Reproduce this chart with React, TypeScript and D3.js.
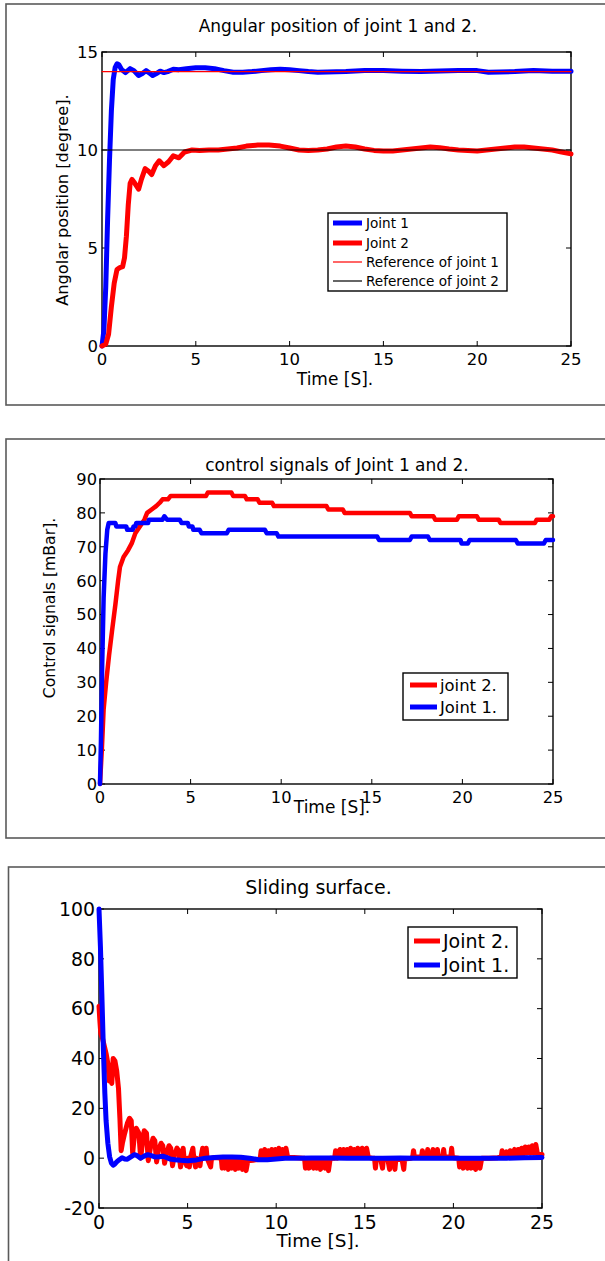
import React from 'react';
import * as d3 from 'd3';

type Pt = [number, number];

// ---------- shared ticks ----------
const timeTicks = [0, 5, 10, 15, 20, 25];
const angleTicks = [0, 5, 10, 15];
const controlTicks = [0, 10, 20, 30, 40, 50, 60, 70, 80, 90];
const slidingTicks = [-20, 0, 20, 40, 60, 80, 100];

// ---------- panel 1: angular position ----------
const angleJoint1: Pt[] = [
  [0, 0], [0.1, 0.8], [0.2, 3], [0.3, 6.5], [0.4, 9.5], [0.5, 12], [0.6, 13.6], [0.7, 14.2], [0.8, 14.4],
  [0.9, 14.35], [1.05, 14.1], [1.25, 13.95], [1.5, 14.15], [1.7, 14.05], [1.95, 13.8], [2.15, 13.9],
  [2.35, 14.05], [2.5, 13.95], [2.7, 13.8], [2.9, 13.9], [3.1, 14.02], [3.3, 13.95], [3.5, 14.0],
  [3.8, 14.12], [4.1, 14.1], [4.5, 14.15], [5.0, 14.2], [5.5, 14.2], [6.0, 14.15], [6.5, 14.05],
  [7.0, 13.97], [7.5, 13.97], [8.0, 14.0], [8.5, 14.05], [9.0, 14.1], [9.5, 14.12], [10.0, 14.1],
  [10.5, 14.05], [11.0, 14.0], [11.5, 13.97], [12.0, 13.98], [13.0, 14.0], [14.0, 14.05], [15.0, 14.05],
  [16.0, 14.02], [17.0, 14.0], [18.0, 14.03], [19.0, 14.05], [20.0, 14.05], [20.6, 13.97], [21.2, 13.98],
  [22.0, 14.0], [23.0, 14.05], [24.0, 14.02], [25.0, 14.02],
];
const angleJoint2: Pt[] = [
  [0, 0], [0.2, 0.1], [0.35, 0.6], [0.5, 2.0], [0.65, 3.2], [0.8, 3.9], [0.95, 4.0], [1.1, 4.05],
  [1.2, 4.5], [1.3, 5.6], [1.4, 7.2], [1.5, 8.3], [1.6, 8.5], [1.75, 8.3], [1.95, 8.0], [2.1, 8.5],
  [2.3, 9.05], [2.5, 8.9], [2.65, 8.75], [2.85, 9.2], [3.05, 9.45], [3.3, 9.2], [3.55, 9.4], [3.8, 9.7],
  [4.1, 9.6], [4.4, 9.9], [4.8, 10.0], [5.2, 9.97], [5.7, 10.0], [6.2, 10.0], [6.7, 10.05], [7.2, 10.1],
  [7.7, 10.2], [8.3, 10.25], [8.9, 10.25], [9.5, 10.2], [10.0, 10.1], [10.5, 10.0], [11.0, 9.98],
  [11.5, 10.0], [12.0, 10.05], [12.5, 10.15], [13.0, 10.2], [13.5, 10.15], [14.0, 10.05], [14.5, 9.98],
  [15.0, 9.95], [15.5, 9.95], [16.0, 10.0], [16.5, 10.05], [17.0, 10.1], [17.5, 10.15], [18.0, 10.12],
  [18.5, 10.05], [19.0, 10.0], [19.5, 9.97], [20.0, 9.95], [20.5, 10.0], [21.0, 10.05], [21.5, 10.1],
  [22.0, 10.15], [22.5, 10.15], [23.0, 10.1], [23.5, 10.05], [24.0, 10.0], [24.5, 9.9], [25.0, 9.8],
];
const angleRef1: Pt[] = [[0, 14], [25, 14]];
const angleRef2: Pt[] = [[0, 10], [25, 10]];

// ---------- panel 2: control signals ----------
const controlJoint2: Pt[] = [
  [0, 0], [0.1, 10], [0.2, 22], [0.34, 30], [0.5, 38], [0.66, 45], [0.85, 53], [1.0, 60], [1.1, 64],
  [1.3, 67], [1.55, 69], [1.75, 71], [1.95, 74], [2.2, 76], [2.45, 78], [2.6, 80], [2.85, 81], [3.1, 82],
  [3.3, 83], [3.45, 84], [3.75, 84], [3.9, 85], [5.85, 85], [5.95, 86], [7.25, 86], [7.35, 85], [8.0, 85],
  [8.1, 84], [8.7, 84], [8.8, 83], [9.5, 83], [9.6, 82], [12.5, 82], [12.6, 81], [13.4, 81], [13.5, 80],
  [17.1, 80], [17.2, 79], [18.4, 79], [18.5, 78], [19.7, 78], [19.8, 79], [20.8, 79], [20.9, 78],
  [22.0, 78], [22.1, 77], [24.0, 77], [24.1, 78], [24.8, 78], [24.9, 79], [25, 79],
];
const controlJoint1: Pt[] = [
  [0, 0], [0.05, 12], [0.12, 35], [0.2, 55], [0.3, 68], [0.4, 75], [0.48, 77], [0.85, 77], [0.9, 76],
  [1.45, 76], [1.5, 75], [1.8, 75], [1.85, 76], [1.95, 76], [2.0, 77], [2.65, 77], [2.7, 78], [3.45, 78],
  [3.55, 79], [3.7, 78], [4.4, 78], [4.5, 77], [4.85, 77], [4.9, 76], [5.1, 76], [5.15, 75], [5.5, 75],
  [5.6, 74], [7.0, 74], [7.1, 75], [9.1, 75], [9.2, 74], [9.75, 74], [9.85, 73], [15.3, 73], [15.4, 72],
  [17.1, 72], [17.2, 73], [18.1, 73], [18.2, 72], [19.9, 72], [19.95, 71], [20.3, 71], [20.4, 72],
  [22.95, 72], [23.05, 71], [24.5, 71], [24.6, 72], [25, 72],
];

// ---------- panel 3: sliding surface ----------
const slidingJoint1: Pt[] = [
  [0, 100], [0.08, 85], [0.16, 66], [0.25, 43], [0.33, 26], [0.4, 15], [0.5, 6], [0.6, 0.5], [0.7, -2],
  [0.8, -2.8], [0.9, -2.3], [1.0, -1.5], [1.15, -0.6], [1.3, 0.2], [1.45, -0.3], [1.6, -0.4], [1.8, 0.5],
  [2.0, 1.4], [2.15, 1.0], [2.35, 0], [2.55, 0.8], [2.75, 1.4], [2.95, 1.0], [3.15, 0.5], [3.4, 0.6],
  [3.6, 0.8], [3.8, 0.3], [4.0, -0.3], [4.3, -0.6], [4.6, -0.8], [5.0, -1.0], [5.5, -0.7], [6.0, 0],
  [6.5, 0.3], [7.0, 0.5], [7.5, 0.5], [8.0, 0.4], [8.5, 0], [9.0, -0.6], [9.5, -0.6], [10.0, -0.3],
  [10.5, 0], [11.0, 0], [12.0, 0.1], [13.0, 0.1], [14.0, 0], [15.0, 0], [16.0, 0], [17.0, 0.1], [18.0, 0],
  [19.0, 0], [20.0, 0], [21.0, 0], [22.0, 0], [23.0, 0], [24.0, 0.2], [25.0, 0.3],
];
const slidingJoint2: Pt[] = [
  [0, 61], [0.05, 55], [0.1, 50], [0.2, 48], [0.3, 45], [0.4, 42], [0.5, 38], [0.58, 31], [0.65, 33],
  [0.72, 30], [0.8, 40], [0.9, 39], [1.0, 35], [1.1, 28], [1.18, 16], [1.25, 3], [1.32, 6], [1.45, 10],
  [1.6, 14], [1.72, 16], [1.82, 15], [1.9, 2], [1.98, 8], [2.1, 12], [2.25, 10], [2.35, 0], [2.45, 6],
  [2.55, 11], [2.68, 10], [2.78, -1], [2.9, 4], [3.05, 8], [3.15, 7], [3.25, -1.5], [3.35, 3], [3.5, 6],
  [3.6, 5], [3.7, -2], [3.82, 2], [3.95, 5], [4.05, 4], [4.15, -3], [4.25, 1], [4.4, 4], [4.5, 3],
  [4.6, -3.5], [4.7, 0], [4.75, 4], [4.8, 0], [4.95, -3], [5.0, 0], [5.1, -3.5], [5.15, 0], [5.3, 4],
  [5.35, 0], [5.45, -3.5], [5.5, 0], [5.7, -3], [5.75, 0], [5.85, 4], [5.9, 0], [6.05, 4], [6.1, 0],
  [6.3, -3.5], [6.35, 0], [6.6, 0.3], [6.9, 0], [6.95, -4], [7.05, 0], [7.1, -4], [7.2, -1], [7.3, -4.5],
  [7.4, 0], [7.5, -4], [7.6, -1], [7.7, -4.5], [7.8, -0.5], [7.9, -4], [8.0, -1], [8.1, -4.5], [8.2, -1],
  [8.3, -5], [8.4, -1], [8.7, -0.8], [9.0, -0.5], [9.1, 0], [9.15, 3], [9.25, 0], [9.35, 3.5], [9.45, 0.5],
  [9.55, 3], [9.65, 0], [9.75, 3.5], [9.85, 0.5], [9.95, 3.5], [10.05, 0.5], [10.15, 4], [10.25, 0.5],
  [10.35, 3.5], [10.45, 0.5], [10.55, 4], [10.65, 0.3], [11.0, 0.3], [11.5, 0], [11.6, 0], [11.65, -4],
  [11.75, -0.5], [11.85, -4], [11.95, -0.5], [12.1, -4], [12.2, -0.5], [12.3, -4], [12.4, -1], [12.5, -4.5],
  [12.6, -0.5], [12.75, -4], [12.85, -1], [12.95, -5], [13.05, 0], [13.3, 0], [13.35, 3], [13.45, 0],
  [13.6, 3.5], [13.7, 0.5], [13.8, 3.5], [13.9, 0.5], [14.0, 3.5], [14.1, 0.5], [14.2, 4], [14.3, 0.5],
  [14.4, 3.5], [14.5, 0.5], [14.6, 4], [14.7, 0.5], [14.85, 4], [14.95, 0.3], [15.1, 4], [15.2, 0.3],
  [15.4, 0], [15.55, 0], [15.6, -4], [15.65, -0.5], [15.9, -0.5], [16.0, -4], [16.05, -0.5], [16.3, -0.5],
  [16.4, -4.5], [16.45, -0.5], [16.6, -0.5], [16.7, -4.5], [16.75, -0.5], [17.1, -0.5], [17.2, -4.5],
  [17.25, -0.3], [17.6, 0], [17.7, 0.3], [17.75, 3], [17.8, 0.5], [18.2, 0.5], [18.25, 3], [18.3, 0.5],
  [18.5, 0.5], [18.55, 3.5], [18.6, 0.5], [18.8, 0.5], [18.85, 3.5], [18.9, 0.5], [19.05, 0.5], [19.1, 3.5],
  [19.15, 0.5], [19.4, 0.5], [19.45, 3.5], [19.5, 0.5], [19.85, 0.5], [19.9, 4], [19.95, 0.3], [20.3, 0],
  [20.35, -3.5], [20.45, -1], [20.55, -4], [20.65, -1], [20.8, -4], [20.9, -1], [21.0, -4], [21.1, -1],
  [21.25, -4.5], [21.35, -1], [21.5, -4], [21.6, 0], [22.0, 0], [22.5, 0.2], [22.7, 0.5], [22.75, 3],
  [22.85, 0.5], [23.0, 2.5], [23.1, 0.5], [23.2, 3], [23.3, 1], [23.45, 3.5], [23.55, 1], [23.65, 3.5],
  [23.75, 1.5], [23.85, 4], [23.95, 1.5], [24.05, 4.5], [24.15, 2], [24.25, 4.5], [24.35, 2], [24.45, 5],
  [24.55, 2], [24.65, 5.5], [24.75, 1.5], [25, 1.5],
];

const FONT = "'DejaVu Sans', 'Liberation Sans', Arial, sans-serif";
const BLUE = '#0000ff';
const RED = '#ff0000';

interface Series { data: Pt[]; color: string; width: number }
interface LegendRow { label: string; color: string; width: number }
interface PanelProps {
  frame: { x: number; y: number; w: number; h: number };
  plot: { x0: number; x1: number; y0: number; y1: number };
  yDomain: [number, number];
  yTicks: number[];
  tickFont: number;
  yTickRight: number;
  xTickBaseline: number;
  title: string; titleX: number; titleY: number; titleFont: number;
  xLabel: string; xLabelX: number; xLabelY: number; labelFont: number;
  yLabel?: string; yLabelX?: number; yLabelY?: number; yLabelFont?: number;
  series: Series[];
  legend: {
    x: number; y: number; w: number; h: number; rows: LegendRow[]; rowY: number[];
    lx1: number; lx2: number; tx: number; font: number;
  };
}

function Panel(p: PanelProps) {
  const x = d3.scaleLinear().domain([0, 25]).range([p.plot.x0, p.plot.x1]);
  const y = d3.scaleLinear().domain(p.yDomain).range([p.plot.y1, p.plot.y0]);
  const line = d3.line<Pt>().x(d => x(d[0])).y(d => y(d[1]));
  const tl = 5;
  return (
    <g>
      <rect x={p.frame.x} y={p.frame.y} width={p.frame.w} height={p.frame.h} fill="white" stroke="#5a5a5a" strokeWidth={1.6} />
      <rect x={p.plot.x0} y={p.plot.y0} width={p.plot.x1 - p.plot.x0} height={p.plot.y1 - p.plot.y0} fill="white" stroke="#000" strokeWidth={1.4} />
      {timeTicks.map(t => (
        <g key={'xt' + t}>
          <line x1={x(t)} x2={x(t)} y1={p.plot.y1} y2={p.plot.y1 - tl} stroke="#000" strokeWidth={1} />
          <line x1={x(t)} x2={x(t)} y1={p.plot.y0} y2={p.plot.y0 + tl} stroke="#000" strokeWidth={1} />
          <text x={x(t)} y={p.xTickBaseline} textAnchor="middle" fontFamily={FONT} fontSize={p.tickFont} fill="#000">{t}</text>
        </g>
      ))}
      {p.yTicks.map(v => (
        <g key={'yt' + v}>
          <line x1={p.plot.x0} x2={p.plot.x0 + tl} y1={y(v)} y2={y(v)} stroke="#000" strokeWidth={1} />
          <line x1={p.plot.x1} x2={p.plot.x1 - tl} y1={y(v)} y2={y(v)} stroke="#000" strokeWidth={1} />
          <text x={p.yTickRight} y={y(v)} dy="0.36em" textAnchor="end" fontFamily={FONT} fontSize={p.tickFont} fill="#000">{v}</text>
        </g>
      ))}
      {p.series.map((s, i) => (
        <path key={'s' + i} d={line(s.data) || ''} fill="none" stroke={s.color} strokeWidth={s.width} strokeLinejoin="round" strokeLinecap="round" />
      ))}
      <text x={p.titleX} y={p.titleY} textAnchor="middle" fontFamily={FONT} fontSize={p.titleFont} fill="#000">{p.title}</text>
      <text x={p.xLabelX} y={p.xLabelY} textAnchor="middle" fontFamily={FONT} fontSize={p.labelFont} fill="#000">{p.xLabel}</text>
      {p.yLabel && (
        <text transform={`translate(${p.yLabelX},${p.yLabelY}) rotate(-90)`} textAnchor="middle" fontFamily={FONT} fontSize={p.yLabelFont} fill="#000">{p.yLabel}</text>
      )}
      <rect x={p.legend.x} y={p.legend.y} width={p.legend.w} height={p.legend.h} fill="white" stroke="#000" strokeWidth={1.4} />
      {p.legend.rows.map((r, i) => (
        <g key={'lg' + i}>
          <line x1={p.legend.lx1} x2={p.legend.lx2} y1={p.legend.rowY[i]} y2={p.legend.rowY[i]} stroke={r.color} strokeWidth={r.width} />
          <text x={p.legend.tx} y={p.legend.rowY[i]} dy="0.36em" fontFamily={FONT} fontSize={p.legend.font} fill="#000">{r.label}</text>
        </g>
      ))}
    </g>
  );
}

export default function App() {
  return (
    <svg width={605} height={1261} style={{ position: 'absolute', left: 0, top: 0, background: 'white' }}>
      <rect x={0} y={0} width={605} height={1261} fill="white" />
      <Panel
        frame={{ x: 6, y: 4, w: 640, h: 401 }}
        plot={{ x0: 102, x1: 571, y0: 52, y1: 346 }}
        yDomain={[0, 15]} yTicks={angleTicks} tickFont={16.5} yTickRight={98} xTickBaseline={365}
        title="Angular position of joint 1 and 2." titleX={338} titleY={32} titleFont={17}
        xLabel="Time [S]." xLabelX={335} xLabelY={385} labelFont={17}
        yLabel="Angolar position [degree]." yLabelX={68} yLabelY={200} yLabelFont={16.2}
        series={[
          { data: angleJoint1, color: BLUE, width: 5 },
          { data: angleJoint2, color: RED, width: 5 },
          { data: angleRef1, color: RED, width: 1.2 },
          { data: angleRef2, color: '#000', width: 1.2 },
        ]}
        legend={{
          x: 328, y: 213, w: 179, h: 78,
          rows: [
            { label: 'Joint 1', color: BLUE, width: 5 },
            { label: 'Joint 2', color: RED, width: 5 },
            { label: 'Reference of joint 1', color: RED, width: 1.2 },
            { label: 'Reference of joint 2', color: '#000', width: 1.2 },
          ],
          rowY: [223, 243, 262, 281], lx1: 333, lx2: 362, tx: 366, font: 13.6,
        }}
      />
      <Panel
        frame={{ x: 6, y: 439, w: 640, h: 399 }}
        plot={{ x0: 100, x1: 553, y0: 479, y1: 784 }}
        yDomain={[0, 90]} yTicks={controlTicks} tickFont={16.3} yTickRight={97} xTickBaseline={803}
        title="control signals of Joint 1 and 2." titleX={337} titleY={471} titleFont={17}
        xLabel="Time [S]." xLabelX={332} xLabelY={813} labelFont={17}
        yLabel="Control signals [mBar]." yLabelX={55} yLabelY={608} yLabelFont={15.7}
        series={[
          { data: controlJoint2, color: RED, width: 4.5 },
          { data: controlJoint1, color: BLUE, width: 4.5 },
        ]}
        legend={{
          x: 403, y: 673, w: 105, h: 47,
          rows: [
            { label: 'joint 2.', color: RED, width: 5 },
            { label: 'Joint 1.', color: BLUE, width: 5 },
          ],
          rowY: [685, 707], lx1: 410, lx2: 437, tx: 440, font: 16.4,
        }}
      />
      <Panel
        frame={{ x: 8.5, y: 867, w: 640, h: 420 }}
        plot={{ x0: 99, x1: 542, y0: 909, y1: 1208 }}
        yDomain={[-20, 100]} yTicks={slidingTicks} tickFont={18.9} yTickRight={95} xTickBaseline={1229}
        title="Sliding surface." titleX={318.5} titleY={894} titleFont={19}
        xLabel="Time [S]." xLabelX={318} xLabelY={1247} labelFont={18.5}
        series={[
          { data: slidingJoint2, color: RED, width: 5 },
          { data: slidingJoint1, color: BLUE, width: 5 },
        ]}
        legend={{
          x: 408, y: 927, w: 109, h: 51,
          rows: [
            { label: 'Joint 2.', color: RED, width: 5 },
            { label: 'Joint 1.', color: BLUE, width: 5 },
          ],
          rowY: [941, 965], lx1: 414, lx2: 440, tx: 443, font: 19,
        }}
      />
    </svg>
  );
}
